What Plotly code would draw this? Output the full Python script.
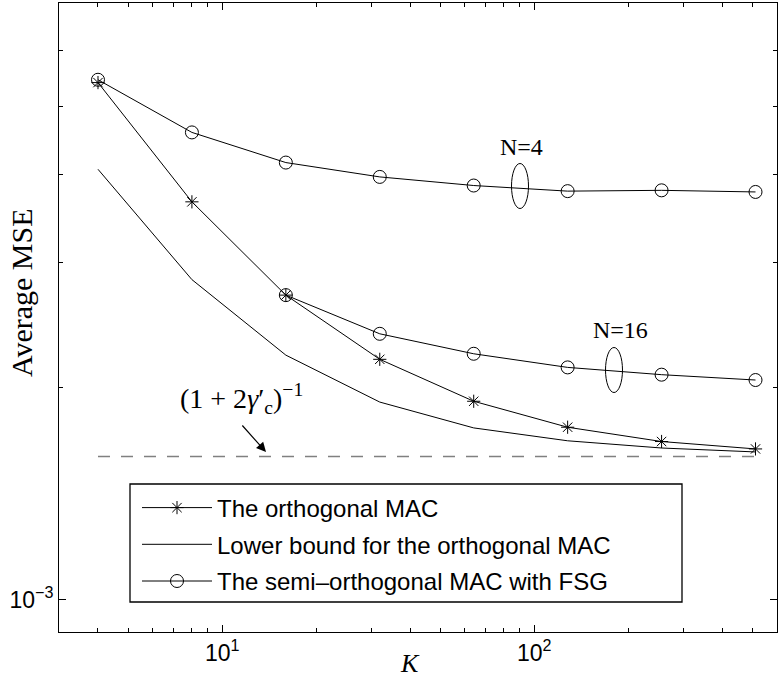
import plotly.graph_objects as go

# ---- data ----
K = [4, 8, 16, 32, 64, 128, 256, 512]
mse_orth = [5.40e-3, 3.66e-3, 2.70e-3, 2.19e-3, 1.91e-3, 1.755e-3, 1.675e-3, 1.635e-3]
mse_lower = [4.07e-3, 2.84e-3, 2.22e-3, 1.905e-3, 1.751e-3, 1.679e-3, 1.640e-3, 1.619e-3]
mse_fsg_n4 = [5.45e-3, 4.59e-3, 4.16e-3, 3.97e-3, 3.86e-3, 3.79e-3, 3.80e-3, 3.78e-3]
K_n16 = [16, 32, 64, 128, 256, 512]
mse_fsg_n16 = [2.70e-3, 2.38e-3, 2.23e-3, 2.133e-3, 2.083e-3, 2.047e-3]
K_bound = [4, 512]
mse_bound = [1.595e-3, 1.595e-3]

x_major = [10, 100]
x_major_text = ["10<sup>1</sup>", "10<sup>2</sup>"]
x_minor = [4, 5, 6, 7, 8, 9, 20, 30, 40, 50, 60, 70, 80, 90, 200, 300, 400, 500]
y_major = [1e-3]
y_major_text = ["10<sup>\u22123</sup>"]
y_minor = [2e-3, 3e-3, 4e-3, 5e-3, 6e-3]

W, H = 778, 681
ML, MR, MT, MB = 59, 1, 3, 49
PW, PH = W - ML - MR, H - MT - MB


def px(x):
    return (x - ML) / PW


def py(y):
    return (H - MB - y) / PH


fig = go.Figure()
line = dict(color="black", width=1)
fig.add_trace(go.Scatter(x=K_bound, y=mse_bound, mode="lines", showlegend=False,
                         line=dict(color="#808080", width=1.6, dash="12px,11px")))
fig.add_trace(go.Scatter(x=K, y=mse_orth, mode="lines+markers", name="The orthogonal MAC",
                         line=line, legendgroup="a",
                         marker=dict(symbol="asterisk-open", size=11, color="black",
                                     line=dict(color="black", width=1))))
fig.add_trace(go.Scatter(x=K, y=mse_lower, mode="lines", name="Lower bound for the orthogonal MAC",
                         line=line, legendgroup="b"))
fig.add_trace(go.Scatter(x=K, y=mse_fsg_n4, mode="lines+markers",
                         name="The semi\u2013orthogonal MAC with FSG", line=line, legendgroup="c",
                         marker=dict(symbol="circle-open", size=13, color="black",
                                     line=dict(color="black", width=1))))
fig.add_trace(go.Scatter(x=K_n16, y=mse_fsg_n16, mode="lines+markers", showlegend=False,
                         line=line,
                         marker=dict(symbol="circle-open", size=13, color="black",
                                     line=dict(color="black", width=1))))

axfont = dict(family="Liberation Sans, Arial, sans-serif", size=23, color="black")
fig.update_xaxes(type="log", range=[0.47712, 2.77815], showline=True, linecolor="black",
                 linewidth=1, mirror="allticks", ticks="inside", ticklen=7, tickcolor="black",
                 tickvals=x_major, ticktext=x_major_text, tickfont=axfont, showgrid=False,
                 zeroline=False,
                 minor=dict(tickvals=x_minor, ticks="inside", ticklen=4, tickcolor="black",
                            showgrid=False))
fig.update_yaxes(type="log", range=[-3.04576, -2.15490], showline=True, linecolor="black",
                 linewidth=1, mirror="allticks", ticks="inside", ticklen=7, tickcolor="black",
                 tickvals=y_major, ticktext=y_major_text, tickfont=axfont, showgrid=False,
                 zeroline=False,
                 minor=dict(tickvals=y_minor, ticks="inside", ticklen=4, tickcolor="black",
                            showgrid=False))

serif = "Liberation Serif, Times New Roman, serif"
annotations = [
    dict(text="Average MSE", x=px(21), y=py(293), textangle=-90,
         font=dict(family=serif, size=30, color="black")),
    dict(text="<i>K</i>", x=px(410), y=py(663),
         font=dict(family=serif, size=26, color="black")),
    dict(text="N=4", x=px(521.5), y=py(147), font=dict(family=serif, size=24, color="black")),
    dict(text="N=16", x=px(620.5), y=py(330.5), font=dict(family=serif, size=24, color="black")),
    dict(text="(1 + 2<i>\u03b3</i>\u2032<sub>c</sub>)<sup>\u22121</sup>", x=px(241), y=py(398),
         font=dict(family=serif, size=28, color="black")),
    dict(text="", x=px(266), y=py(452), ax=-25, ay=-28, showarrow=True, arrowhead=2,
         arrowsize=1.6, arrowwidth=1.2, arrowcolor="black", standoff=0),
]
for a in annotations:
    a.setdefault("xref", "paper")
    a.setdefault("yref", "paper")
    a.setdefault("showarrow", False)
    a.setdefault("xanchor", "center")
    a.setdefault("yanchor", "middle")
fig.update_layout(annotations=annotations)

shapes = [
    dict(type="circle", xref="paper", yref="paper", x0=px(511.5), x1=px(528.5),
         y0=py(208.5), y1=py(163.5), line=dict(color="black", width=1)),
    dict(type="circle", xref="paper", yref="paper", x0=px(605.5), x1=px(622.5),
         y0=py(392.5), y1=py(347.5), line=dict(color="black", width=1)),
    dict(type="rect", xref="paper", yref="paper", x0=px(130), x1=px(682),
         y0=py(602), y1=py(484), line=dict(color="black", width=1.3), fillcolor="white",
         layer="above"),
]
fig.update_layout(shapes=shapes)

fig.update_layout(
    width=W, height=H, margin=dict(l=ML, r=MR, t=MT, b=MB, pad=0),
    paper_bgcolor="white", plot_bgcolor="white",
    legend=dict(x=px(137), y=py(485.5), xanchor="left", yanchor="top",
                bgcolor="rgba(0,0,0,0)", borderwidth=0, traceorder="grouped",
                tracegroupgap=2.5, itemwidth=70,
                font=dict(family="Liberation Sans, Arial, sans-serif", size=24, color="black")),
)

fig.write_html("out.html")
